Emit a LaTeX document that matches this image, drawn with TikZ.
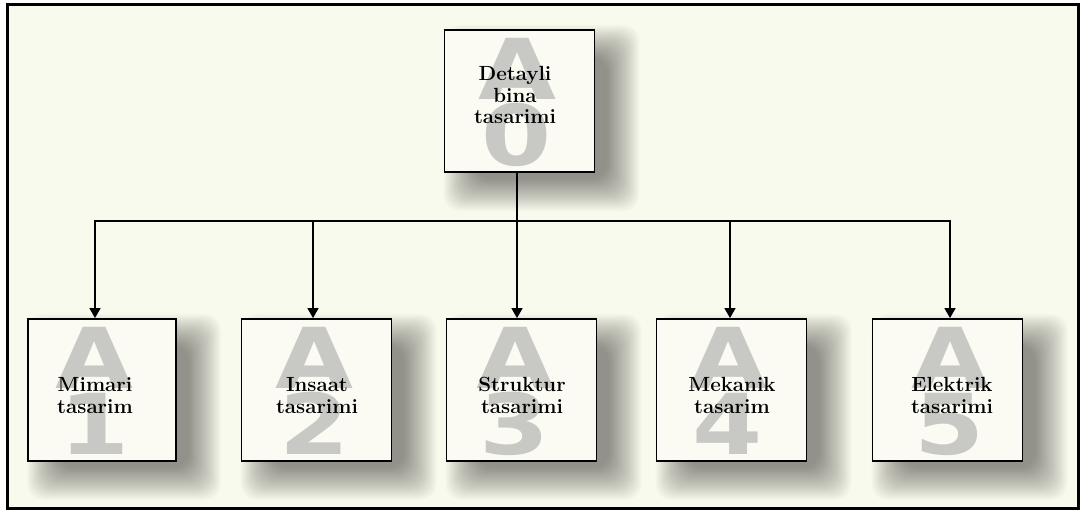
\documentclass[tikz,border=0pt]{standalone}
\usepackage{fontspec}
\newfontfamily\wmfont{DejaVu Sans}
\usetikzlibrary{arrows.meta,calc}
\pgfdeclarelayer{bgzero}
\pgfdeclarelayer{shadowlayer}
\pgfsetlayers{bgzero,shadowlayer,main}
\definecolor{bgcol}{HTML}{F9FAEE}
\definecolor{boxcol}{HTML}{FBFBF4}
\definecolor{wmcol}{HTML}{C8C8C4}
\tikzset{
  box/.style={draw=black, line width=1.8pt, fill=boxcol, minimum width=150pt, minimum height=142pt, inner sep=0pt},
  shadowpiece/.style={fill=black, opacity=0.02, rounded corners=16pt},
  wm/.style={text=wmcol, font=\wmfont\bfseries\fontsize{84}{66}\selectfont, align=center, inner sep=0pt, xscale=1.2},
  lbl/.style={font=\bfseries\fontsize{20.5}{21.5}\selectfont, align=center, inner sep=0pt},
  conn/.style={line width=1.6pt, draw=black},
  arr/.style={conn, -{Triangle[length=10pt,width=11pt]}},
  frame/.style={line width=3pt, draw=black, fill=bgcol}
}
\newcommand\myboxshadow[1]{%
  \foreach \i in {0,...,23}{%
    \path[shadowpiece] ($(#1.south west)+(1.4*\i,-38+1.4*\i)$) rectangle ($(#1.north east)+(44-1.4*\i,4-1.4*\i)$);}}
\begin{document}
\begin{tikzpicture}[x=1pt,y=1pt]
\useasboundingbox (0,0) rectangle (1084,-511);
\begin{pgfonlayer}{bgzero}
\path[frame] (7,-5) rectangle (1078,-508);
\end{pgfonlayer}
% boxes
\node[box] (b0) at (519.5,-101) {};
\node[box, minimum width=148pt] (b1) at (102,-390) {};
\node[box] (b2) at (316.5,-390) {};
\node[box] (b3) at (521.5,-390) {};
\node[box] (b4) at (731.5,-390) {};
\node[box] (b5) at (947.5,-390) {};
\begin{pgfonlayer}{shadowlayer}
\myboxshadow{b0}
\myboxshadow{b1}
\myboxshadow{b2}
\myboxshadow{b3}
\myboxshadow{b4}
\myboxshadow{b5}
\end{pgfonlayer}
% watermarks
\node[wm] (w0) at (517,-102) {A\\0};
\node[wm] (w1) at (95,-391) {A\\1};
\node[wm] (w2) at (315,-391) {A\\2};
\node[wm] (w3) at (515,-391) {A\\3};
\node[wm] (w4) at (728,-391) {A\\4};
\node[wm] (w5) at (950,-391) {A\\5};
% labels
\node[lbl] (t0) at (515,-95) {Detayli\\bina\\tasarimi};
\node[lbl] (t1) at (95,-395.5) {Mimari\\tasarim};
\node[lbl] (t2) at (317,-395.5) {Insaat\\tasarimi};
\node[lbl] (t3) at (522,-395.5) {Struktur\\tasarimi};
\node[lbl] (t4) at (732,-395.5) {Mekanik\\tasarim};
\node[lbl] (t5) at (952,-395.5) {Elektrik\\tasarimi};
% connectors
\coordinate (bus) at (517,-221);
\draw[conn] ([xshift=-2.5pt]b0.south) -- (bus);
\draw[arr] (bus) -| ([xshift=-7pt]b1.north);
\draw[arr] (bus) -| ([xshift=-3.5pt]b2.north);
\draw[arr] (bus) -- ([xshift=-4.5pt]b3.north);
\draw[arr] (bus) -| ([xshift=-1.5pt]b4.north);
\draw[arr] (bus) -| ([xshift=2.5pt]b5.north);
\end{tikzpicture}
\end{document}
